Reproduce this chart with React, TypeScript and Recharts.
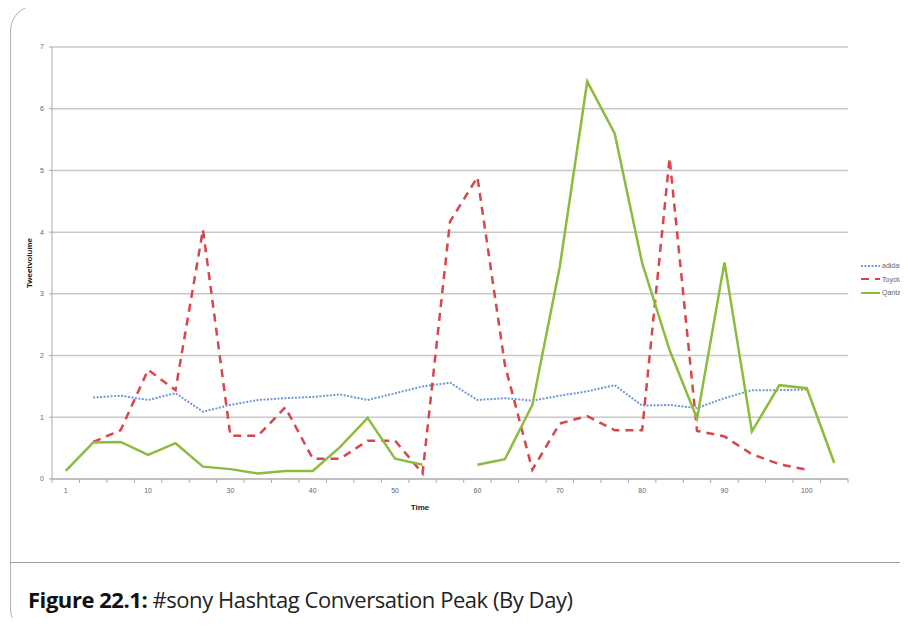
import * as React from 'react';
import { LineChart, Line, XAxis, YAxis, CartesianGrid, Legend } from 'recharts';

// one label per category, Excel only printed every third one
const tickLabels = ['1', '', '', '10', '', '', '30', '', '', '40', '', '', '50', '', '', '60', '', '', '70', '', '', '80', '', '', '90', '', '', '100', ''];

const adidas = [null, 1.32, 1.35, 1.28, 1.39, 1.09, 1.2, 1.28, 1.31, 1.33, 1.37, 1.28, 1.39, 1.5, 1.56, 1.28, 1.31, 1.27, 1.35, 1.42, 1.52, 1.19, 1.2, 1.15, 1.31, 1.44, 1.44, 1.45, null];
const toyota = [null, 0.6, 0.79, 1.77, 1.44, 4.04, 0.7, 0.7, 1.16, 0.33, 0.33, 0.62, 0.62, 0.09, 4.17, 4.89, 1.85, 0.15, 0.9, 1.02, 0.79, 0.79, 5.2, 0.78, 0.69, 0.4, 0.24, 0.15, null];
const qantas = [0.13, 0.59, 0.6, 0.39, 0.58, 0.2, 0.16, 0.09, 0.13, 0.13, 0.52, 0.99, 0.33, 0.23, null, 0.23, 0.32, 1.2, 3.44, 6.44, 5.6, 3.5, 2.09, 0.98, 3.51, 0.77, 1.52, 1.47, 0.26];

const seriesOrder = ['adidas', 'Toyota', 'Qantas'];
const yTicks = [0, 1, 2, 3, 4, 5, 6, 7];

const data = tickLabels.map((t, i) => ({ t, adidas: adidas[i], Toyota: toyota[i], Qantas: qantas[i] }));

const W = 908;
const H = 626;
const legendW = 60;
// legend width is added to the right offset by recharts
const margin = { top: 47, right: 0, bottom: 111, left: 12 };
const yAxisW = 40;
const plotW = W - margin.left - legendW - yAxisW;
const band = plotW / tickLabels.length;

const XTick = (props: any) => {
  const { x, y, payload, index } = props;
  const last = index === tickLabels.length - 1;
  return (
    <g>
      <line x1={x - band / 2} x2={x - band / 2} y1={y - 8} y2={y - 4} stroke="#aaa" />
      {last && <line x1={x + band / 2} x2={x + band / 2} y1={y - 8} y2={y - 4} stroke="#aaa" />}
      <text x={x} y={y + 6} textAnchor="middle" fontSize={7} fill="#666">{payload.value}</text>
    </g>
  );
};

const LegendBox = (props: any) => {
  const items = [...props.payload].sort((a: any, b: any) => seriesOrder.indexOf(a.value) - seriesOrder.indexOf(b.value));
  return (
    <div style={{ fontSize: 7, color: '#666', fontFamily: 'Liberation Sans, Arial, sans-serif' }}>
      {items.map((p: any) => (
        <div key={p.value} style={{ display: 'flex', alignItems: 'center', height: 13.5, whiteSpace: 'nowrap' }}>
          <svg width={20} height={6}>
            <line x1={0} x2={19} y1={3} y2={3} stroke={p.color} strokeWidth={2}
              strokeDasharray={p.payload.strokeDasharray} />
          </svg>
          <span style={{ marginLeft: 1 }}>{p.value}</span>
        </div>
      ))}
    </div>
  );
};

export default function App() {
  return (
    <div style={{ position: 'relative', width: W, height: H, margin: -8, overflow: 'hidden', background: '#fff' }}>
      <div style={{ position: 'absolute', left: 10, top: 5, width: 920, height: 630, border: '1.5px solid #b0b0b0', borderRadius: 26, boxSizing: 'border-box' }} />
      <div style={{ position: 'absolute', left: 10, top: 562, width: 910, height: 0, borderTop: '1.5px solid #a0a0a0' }} />
      <div style={{ position: 'absolute', left: 28, top: 584, fontFamily: '"Open Sans", "Noto Sans", sans-serif', fontSize: 22, lineHeight: '30px', color: '#222', whiteSpace: 'nowrap', letterSpacing: -0.45 }}>
        <b style={{ color: '#111' }}>Figure 22.1:</b> #sony Hashtag Conversation Peak (By Day)
      </div>
      <div style={{ position: 'absolute', left: 0, top: 0 }}>
        <LineChart width={W} height={H} data={data} margin={margin} style={{ fontFamily: 'Liberation Sans, Arial, sans-serif' }}>
          <CartesianGrid vertical={false} stroke="#c8c8c8" strokeWidth={1.5} />
          <XAxis dataKey="t" interval={0} tickLine={false} stroke="#aaa" height={36} tick={<XTick />}
            padding={{ left: band / 2, right: band / 2 }}
            label={{ content: (p: any) => <text x={420} y={p.viewBox.y + 31} textAnchor="middle" fontSize={8} fontWeight="bold" fill="#222">Time</text> }} />
          <YAxis domain={[0, 7]} ticks={yTicks} width={yAxisW} stroke="#aaa" tickSize={3} tickMargin={5}
            tick={{ fontSize: 7, fill: '#666' }}
            label={{ content: (p: any) => <text x={32} y={263} transform="rotate(-90 32 263)" textAnchor="middle" fontSize={8} fontWeight="bold" fill="#222">Tweetvolume</text> }} />
          <Legend layout="vertical" align="right" verticalAlign="top" content={<LegendBox />}
            wrapperStyle={{ left: 861, top: 259, width: legendW }} />
          <Line dataKey="adidas" stroke="#6f97d6" strokeWidth={2} strokeDasharray="2 1.5" dot={false} isAnimationActive={false} />
          <Line dataKey="Toyota" stroke="#d8454a" strokeWidth={2.5} strokeDasharray="8 6" dot={false} isAnimationActive={false} />
          <Line dataKey="Qantas" stroke="#8dbb3e" strokeWidth={2.5} dot={false} isAnimationActive={false} />
        </LineChart>
      </div>
    </div>
  );
}
